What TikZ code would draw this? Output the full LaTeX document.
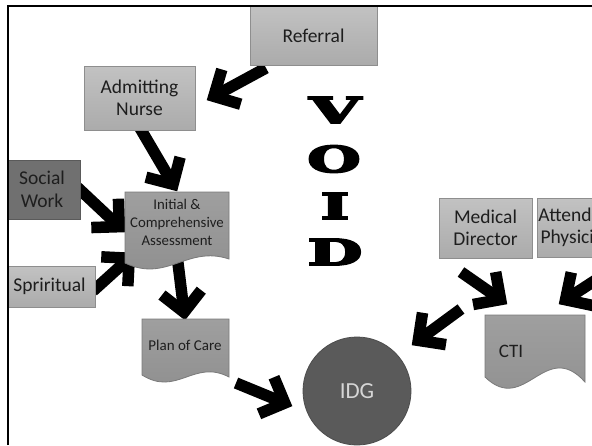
\documentclass[tikz,border=0pt]{standalone}
\usepackage{fontspec}
\setmainfont{Carlito}
\newfontfamily\voidfont{DejaVu Serif}
\usetikzlibrary{calc}
\definecolor{lightA}{HTML}{C2C2C2}
\definecolor{lightB}{HTML}{ABABAB}
\definecolor{lightEdge}{HTML}{8E8E8E}
\definecolor{darkbox}{HTML}{707070}
\definecolor{midbox}{HTML}{8E8E8E}
\definecolor{midEdge}{HTML}{7A7A7A}
\definecolor{idgfill}{HTML}{5A5A5A}
\definecolor{idgtext}{HTML}{D6D6D6}
\definecolor{inktext}{HTML}{1E1E1E}
\newcommand{\heavytext}[1]{\special{pdf:literal direct 2 Tr 1.6 w}#1\special{pdf:literal direct 0 Tr}}
\tikzset{
  lightbox/.style={draw=lightEdge, line width=0.8pt, top color=lightA, bottom color=lightB,
    text=inktext, align=center, inner sep=0pt, font=\fontsize{19.5}{22.5}\selectfont},
  darkbox/.style={draw=darkbox!80!black, line width=0.8pt, fill=darkbox,
    text=inktext, align=center, inner sep=0pt, font=\fontsize{19.5}{22.5}\selectfont},
  docshape/.style={draw=midEdge, line width=0.8pt, top color=midbox!85!white, bottom color=midbox},
  doctext/.style={text=inktext, align=center, inner sep=0pt},
  fatstroke/.style={draw=black, line width=11.5pt},
  voidletter/.style={inner sep=0pt, font=\voidfont\bfseries\fontsize{36}{36}\selectfont},
  frameline/.style={draw=black, line width=2.4pt}
}
\newcommand{\fatarrow}[2]{%
  \path ($(#2)!7.8pt!(#1)$) coordinate (fa-tip);
  \draw[fatstroke] (#1) -- (fa-tip);
  \draw[fatstroke, line join=miter] ($(fa-tip)!28pt!45:(#1)$) -- (fa-tip) -- ($(fa-tip)!28pt!-45:(#1)$);
}
\begin{document}
\begin{tikzpicture}[x=1pt,y=-1pt]
\useasboundingbox (0,0) rectangle (592,445);
\fill[white] (0,0) rectangle (592,445);
\begin{scope}
\clip (7,6) rectangle (592,445);

% VOID letters
\node[voidletter] (vV) at (335,110) {\scalebox{1.85}[1]{\heavytext{V}}};
\node[voidletter] (vO) at (334,159) {\scalebox{1.7}[1]{\heavytext{O}}};
\node[voidletter] (vI) at (335,206) {\scalebox{1.7}[1]{\heavytext{I}}};
\node[voidletter] (vD) at (335,252) {\scalebox{1.75}[1]{\heavytext{D}}};

% arrow end points
\coordinate (a1s) at (266,68);  \coordinate (a1e) at (207,100);
\coordinate (a2s) at (140,128); \coordinate (a2e) at (177,191);
\coordinate (a3s) at (76,186);  \coordinate (a3e) at (125,232);
\coordinate (a4s) at (93,291);  \coordinate (a4e) at (135,253);
\coordinate (a5s) at (177,255); \coordinate (a5e) at (185,320);
\coordinate (a6s) at (236,383); \coordinate (a6e) at (292,406);
\coordinate (a7s) at (461,309); \coordinate (a7e) at (412,345);
\coordinate (a8s) at (461,272); \coordinate (a8e) at (507,304);
\coordinate (a9s) at (605,274); \coordinate (a9e) at (559,304);

\fatarrow{a1s}{a1e}
\fatarrow{a2s}{a2e}
\fatarrow{a3s}{a3e}
\fatarrow{a4s}{a4e}
\fatarrow{a5s}{a5e}
\fatarrow{a6s}{a6e}
\fatarrow{a7s}{a7e}
\fatarrow{a8s}{a8e}
\fatarrow{a9s}{a9e}

% rectangular boxes
\node[lightbox, minimum width=127, minimum height=59] (referral) at (313.5,35.5) {Referral};
\node[lightbox, minimum width=111, minimum height=64] (nurse) at (139.5,98) {Admitting\\Nurse};
\node[darkbox, minimum width=76, minimum height=59] (social) at (42,189.5) {Social\\Work};
\node[lightbox, minimum width=91, minimum height=41] (spirit) at (49.5,286.5) {Spriritual};
\node[lightbox, minimum width=93, minimum height=60] (meddir) at (485.5,228) {Medical\\Director};
\node[lightbox, minimum width=80, minimum height=59, text width=80] (attend) at (577,227.5) {Attending\\Physician};

% document shapes
\draw[docshape] (125,192) -- (229,192) -- (229,259)
  .. controls (187,245) and (167,283) .. (125,263) -- cycle;
\node[doctext, font=\fontsize{14.8}{18.3}\selectfont] (initial) at (177,222.5) {Initial \&\\Comprehensive\\Assessment};

\draw[docshape] (142,319) -- (229,319) -- (229,377)
  .. controls (194,358.6) and (177,397) .. (142,375) -- cycle;
\node[doctext, font=\fontsize{15}{18}\selectfont] (plan) at (185,345) {Plan of Care};

\draw[docshape] (485,315) -- (585,315) -- (585,382)
  .. controls (545,337.7) and (525,415.9) .. (485,377) -- cycle;
\node[doctext, font=\fontsize{19}{22}\selectfont] (cti) at (511,351) {CTI};

% IDG circle
\node[circle, draw=idgfill!85!black, line width=0.8pt, fill=idgfill, minimum size=108, inner sep=0pt,
  text=idgtext, font=\fontsize{23}{26}\selectfont] (idg) at (357,391) {IDG};
\end{scope}

% slide frame
\coordinate (frameBL) at (7.7,445);
\coordinate (frameTL) at (7.7,6);
\coordinate (frameTR) at (592,6);
\draw[frameline] (frameBL) -- (frameTL) -- (frameTR);
\end{tikzpicture}
\end{document}
